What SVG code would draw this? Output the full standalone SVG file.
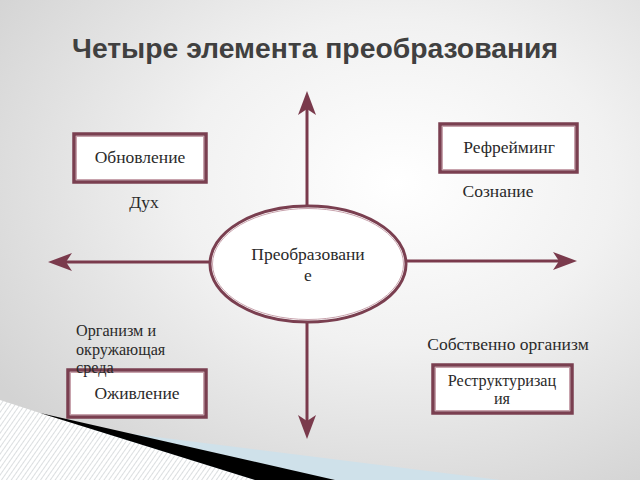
<svg xmlns="http://www.w3.org/2000/svg" width="640" height="480" viewBox="0 0 640 480">
<defs>
<radialGradient id="bg" cx="0.62" cy="0.38" r="0.75">
<stop offset="0" stop-color="#ffffff"/>
<stop offset="0.45" stop-color="#f1f1f1"/>
<stop offset="1" stop-color="#d3d3d3"/>
</radialGradient>
<pattern id="hatch" width="4" height="4" patternUnits="userSpaceOnUse" patternTransform="rotate(35)">
<rect width="4" height="4" fill="#ffffff"/>
<line x1="0" y1="0" x2="0" y2="4" stroke="#c4c8cc" stroke-width="1.2"/>
</pattern>
<marker id="head" viewBox="0 0 24 18" refX="6" refY="9" markerWidth="24" markerHeight="18" markerUnits="userSpaceOnUse" orient="auto">
<path d="M0,0 L24,9 L0,18 L6,9 Z" fill="#7a3a4c"/>
</marker>
<style>
.conn{stroke:#7a3a4c;stroke-width:3;fill:none;marker-end:url(#head)}
.box{fill:#ffffff;stroke:#7a3f50;stroke-width:3.5}
.inner{fill:none;stroke:#c8a3ad;stroke-width:1}
.lbl{font-family:"Liberation Serif","DejaVu Serif",serif;font-size:17.5px;fill:#2a2a2a}
.sm{font-size:16.2px}
.c{text-anchor:middle}
.title{font-family:"Liberation Sans",Arial,sans-serif;font-weight:bold;font-size:28.3px;fill:#404040}
</style>
</defs>
<rect width="640" height="480" fill="url(#bg)"/>
<g id="decoration">
<polygon points="60,425 500,480 0,480" fill="#cfe1ea"/>
<polygon points="0,400 40,413 255,480 0,480" fill="url(#hatch)"/>
<polygon points="40,413 335,480 255,480" fill="#000000"/>
</g>
<text class="title" x="72" y="58">Четыре элемента преобразования</text>
<g id="connectors">
<line class="conn" x1="307" y1="206" x2="307" y2="109"/>
<line class="conn" x1="307" y1="322" x2="307" y2="421"/>
<line class="conn" x1="210" y1="262" x2="66" y2="262"/>
<line class="conn" x1="406" y1="261" x2="559" y2="261"/>
</g>
<g id="center">
<ellipse cx="308" cy="264" rx="98" ry="58" fill="#ffffff" stroke="#7a3f50" stroke-width="3"/>
<ellipse cx="308" cy="264" rx="95.5" ry="55.5" fill="none" stroke="#c8a3ad" stroke-width="1"/>
<text class="lbl c" x="308" y="260">Преобразовани</text>
<text class="lbl c" x="308" y="281">е</text>
</g>
<g id="obnovlenie">
<rect class="box" x="74" y="134" width="132" height="48"/>
<rect class="inner" x="76.5" y="136.5" width="127" height="43"/>
<text class="lbl c" x="140" y="163">Обновление</text>
</g>
<text class="lbl c" x="144" y="208">Дух</text>
<g id="reframing">
<rect class="box" x="440" y="124" width="137" height="48"/>
<rect class="inner" x="442.5" y="126.5" width="132" height="43"/>
<text class="lbl c" x="509" y="153">Рефрейминг</text>
</g>
<text class="lbl c" x="498" y="197">Сознание</text>
<text class="lbl sm" x="76" y="336">Организм и</text>
<text class="lbl sm" x="76" y="354.5">окружающая</text>
<g id="ozhivlenie">
<rect class="box" x="68" y="370" width="138" height="47"/>
<rect class="inner" x="70.5" y="372.5" width="133" height="42"/>
<text class="lbl c" x="137" y="399">Оживление</text>
</g>
<text class="lbl sm" x="76" y="373">среда</text>
<text class="lbl c" x="508" y="350">Собственно организм</text>
<g id="restructuring">
<rect class="box" x="433" y="365" width="139" height="48"/>
<rect class="inner" x="435.5" y="367.5" width="134" height="43"/>
<text class="lbl sm c" x="502" y="385.5">Реструктуризац</text>
<text class="lbl sm c" x="502" y="404">ия</text>
</g>
</svg>
